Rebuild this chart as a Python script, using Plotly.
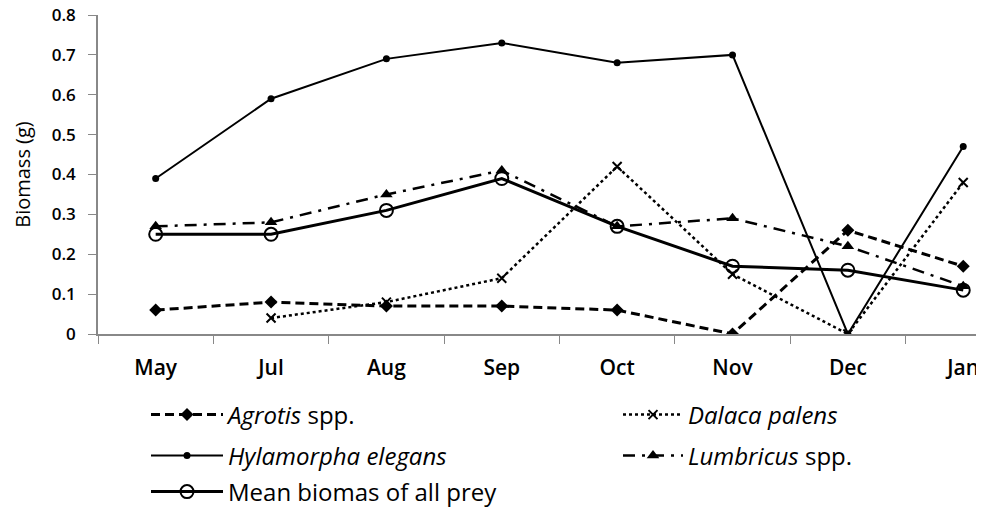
import plotly.graph_objects as go

months = ["May", "Jul", "Aug", "Sep", "Oct", "Nov", "Dec", "Jan"]
agrotis = [0.06, 0.08, 0.07, 0.07, 0.06, 0.0, 0.26, 0.17]
dalaca = [None, 0.04, 0.08, 0.14, 0.42, 0.15, 0.0, 0.38]
hylamorpha = [0.39, 0.59, 0.69, 0.73, 0.68, 0.70, 0.0, 0.47]
lumbricus = [0.27, 0.28, 0.35, 0.41, 0.27, 0.29, 0.22, 0.12]
mean_all = [0.25, 0.25, 0.31, 0.39, 0.27, 0.17, 0.16, 0.11]
y_ticks = [0, 0.1, 0.2, 0.3, 0.4, 0.5, 0.6, 0.7, 0.8]
y_ticktext = ["0", "0.1", "0.2", "0.3", "0.4", "0.5", "0.6", "0.7", "0.8"]

FONT = "Open Sans"
fig = go.Figure()

fig.add_trace(go.Scatter(x=months, y=agrotis, name="<i>Agrotis</i> spp.", mode="lines+markers",
                         line=dict(color="black", width=3, dash="9px,5px"),
                         marker=dict(symbol="diamond", size=10, color="black"), legend="legend"))
fig.add_trace(go.Scatter(x=months, y=dalaca, name="<i>Dalaca palens</i>", mode="lines+markers",
                         line=dict(color="black", width=2.5, dash="dot"),
                         marker=dict(symbol="x-thin-open", size=9, color="black",
                                     line=dict(color="black", width=2)), legend="legend2"))
fig.add_trace(go.Scatter(x=months, y=hylamorpha, name="<i>Hylamorpha elegans</i>", mode="lines+markers",
                         line=dict(color="black", width=2),
                         marker=dict(symbol="circle", size=7, color="black"), legend="legend3"))
fig.add_trace(go.Scatter(x=months, y=lumbricus, name="<i>Lumbricus</i> spp.", mode="lines+markers",
                         line=dict(color="black", width=2.5, dash="12px,7px,3px,7px"),
                         marker=dict(symbol="triangle-up", size=11, color="black"), legend="legend4"))
fig.add_trace(go.Scatter(x=months, y=mean_all, name="Mean biomas of all prey", mode="lines+markers",
                         line=dict(color="black", width=3),
                         marker=dict(symbol="circle-open", size=13, color="black",
                                     line=dict(color="black", width=2)), legend="legend5"))

# page body has an 8px margin: figure occupies screen x 8..984, y 8..517
OFF = 8
x0 = 98      # screen x of plot-area left
W = 886
def lx(px):
    return (px - x0) / W
def ly(py):
    return (334 - py) / 319

def leg(x, y, iw):
    return dict(bgcolor="rgba(0,0,0,0)", font=dict(family=FONT, size=24, color="black"),
                itemwidth=iw, xanchor="left", yanchor="middle", x=lx(x), y=ly(y))

fig.update_layout(
    legend=leg(146, 415, 72),
    legend2=leg(618, 415, 60),
    legend3=leg(146, 456, 72),
    legend4=leg(618, 456, 60),
    legend5=leg(146, 492, 72),
)

fig.update_layout(
    width=984 - OFF, height=517 - OFF,
    margin=dict(l=98 - OFF, r=0, t=15 - OFF, b=517 - 334),
    plot_bgcolor="white", paper_bgcolor="white",
    font=dict(family=FONT, color="black"),
    showlegend=True,
)
fig.update_xaxes(type="category", range=[-0.5, 7.18], tickson="boundaries", ticks="outside",
                 ticklen=8, tickcolor="#888", showline=True, linecolor="#888", linewidth=1.5,
                 showgrid=False, zeroline=False, automargin=False,
                 tickfont=dict(size=21, family=FONT, color="black", weight=600),
                 ticklabelstandoff=14, ticklabeloverflow="allow")
fig.update_yaxes(range=[0, 0.8], tickvals=y_ticks, ticktext=y_ticktext, ticks="outside",
                 ticklen=8, tickcolor="#888", showline=True, linecolor="#888", linewidth=1.5,
                 showgrid=False, zeroline=False, automargin=False,
                 tickfont=dict(size=17, family=FONT, color="black", weight=600),
                 ticklabelstandoff=9, ticklabeloverflow="allow",
                 title=dict(text="Biomass (g)", font=dict(size=20, family=FONT, color="black"), standoff=16))

fig.write_html("out.html")
